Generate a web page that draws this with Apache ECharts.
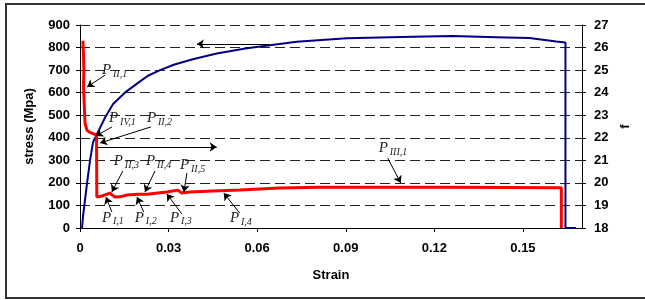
<!DOCTYPE html>
<html>
<head>
<meta charset="utf-8">
<script src="https://cdn.jsdelivr.net/npm/echarts@6/dist/echarts.min.js"></script>
<style>
html, body { margin: 0; padding: 0; background: #fff; }
#main { width: 645px; height: 300px; }
</style>
</head>
<body>
<div id="main"></div>
<script>
// axis ranges: [min, max, step]
var strainAxis = [0, 0.17, 0.03];
var stressAxis = [0, 900, 100];
var fAxis = [18, 27, 1];

// red curve, stress (Mpa) vs strain
var stressData = [
    [0.0010, 830], [0.0012, 760], [0.0013, 700], [0.0012, 625], [0.0017, 465],
    [0.0024, 432], [0.0034, 424], [0.0056, 412], [0.0057, 137], [0.0074, 142],
    [0.0101, 155], [0.0118, 137], [0.0135, 138], [0.0159, 146], [0.0196, 150],
    [0.0227, 150], [0.0294, 160], [0.0331, 168], [0.0345, 155], [0.0372, 160],
    [0.0450, 164], [0.0541, 168], [0.0676, 177], [0.0812, 181], [0.1251, 181],
    [0.1630, 179], [0.1630, 0]
];

// blue curve, f vs strain
var fData = [
    [0.0007, 18], [0.0010, 18.5], [0.0024, 20], [0.0034, 21], [0.0044, 21.8],
    [0.0057, 22.15], [0.0085, 22.9], [0.0112, 23.5], [0.0152, 24], [0.0193, 24.4],
    [0.0230, 24.75], [0.0271, 25], [0.0320, 25.25], [0.0382, 25.48], [0.0463, 25.74],
    [0.0565, 25.97], [0.0734, 26.26], [0.0903, 26.41], [0.1126, 26.48], [0.1261, 26.51],
    [0.1410, 26.46], [0.1522, 26.42], [0.1613, 26.27], [0.1644, 26.22], [0.1644, 18],
    [0.1680, 18]
];

// callouts: subscript, text point, arrow start, arrow end (strain, stress)
var callouts = [
    ['II,1', [0.0078, 700], [0.0085, 678], [0.0024, 625]],
    ['IV,1', [0.0102, 488], [0.0108, 448], [0.0054, 408]],
    ['II,2', [0.0230, 488], [0.0240, 448], [0.0068, 377]],
    ['II,3', [0.0118, 297], [0.0145, 253], [0.0108, 160]],
    ['II,4', [0.0227, 297], [0.0254, 253], [0.0220, 160]],
    ['II,5', [0.0342, 279], [0.0362, 244], [0.0352, 160]],
    ['I,1', [0.0078, 46], [0.0108, 71], [0.0088, 137]],
    ['I,2', [0.0189, 46], [0.0216, 71], [0.0193, 137]],
    ['I,3', [0.0308, 46], [0.0345, 62], [0.0294, 151]],
    ['I,4', [0.0511, 44], [0.0541, 66], [0.0487, 155]],
    ['III,1', [0.1015, 355], [0.1042, 310], [0.1086, 200]]
];

// the two long arrows
var longArrows = [
    [[0.0643, 816], [0.0396, 816]],
    [[0.0058, 359], [0.0463, 359]]
];

var axisFont = { color: '#000', fontFamily: 'Liberation Sans', fontWeight: 'bold', fontSize: 13 };
var arrowLines = [];
callouts.forEach(function (c) {
    arrowLines.push([{ coord: c[2] }, { coord: c[3] }]);
});
longArrows.forEach(function (a) {
    arrowLines.push([{ coord: a[0] }, { coord: a[1] }]);
});

var chart = echarts.init(document.getElementById('main'));
var option = {
    animation: false,
    backgroundColor: '#fff',
    grid: { left: 80, right: 63, top: 25, bottom: 72 },
    xAxis: {
        type: 'value',
        min: strainAxis[0], max: strainAxis[1], interval: strainAxis[2],
        name: 'Strain', nameLocation: 'middle', nameGap: 41,
        nameTextStyle: axisFont,
        axisLine: { lineStyle: { color: '#000', width: 1 } },
        axisTick: { length: 4, lineStyle: { color: '#000' } },
        axisLabel: Object.assign({ margin: 14, showMaxLabel: false }, axisFont),
        splitLine: { show: false }
    },
    yAxis: [{
        type: 'value',
        min: stressAxis[0], max: stressAxis[1], interval: stressAxis[2],
        name: 'stress (Mpa)', nameLocation: 'middle', nameGap: 44,
        nameTextStyle: axisFont,
        axisLine: { show: true, lineStyle: { color: '#000', width: 1 } },
        axisTick: { show: true, length: 4, lineStyle: { color: '#000' } },
        axisLabel: Object.assign({ margin: 10 }, axisFont),
        splitLine: { show: true, lineStyle: { color: '#222', width: 1, type: [10, 5] } }
    }, {
        type: 'value', position: 'right',
        min: fAxis[0], max: fAxis[1], interval: fAxis[2],
        name: 'f', nameLocation: 'middle', nameGap: 35,
        nameTextStyle: axisFont,
        axisLine: { show: true, lineStyle: { color: '#000', width: 1 } },
        axisTick: { show: true, length: 4, lineStyle: { color: '#000' } },
        axisLabel: Object.assign({ margin: 12 }, axisFont),
        splitLine: { show: false }
    }],
    series: [{
        name: 'f', type: 'line', yAxisIndex: 1, data: fData,
        showSymbol: false, z: 2,
        lineStyle: { color: '#000080', width: 2 }
    }, {
        name: 'stress', type: 'line', yAxisIndex: 0, data: stressData,
        showSymbol: false, z: 3,
        lineStyle: { color: '#ff0000', width: 3 },
        markLine: {
            silent: true,
            symbol: ['none', 'arrow'],
            symbolSize: 7,
            label: { show: false },
            lineStyle: { color: '#000', width: 1, type: 'solid' },
            data: arrowLines
        }
    }]
};
chart.setOption(option);

// P labels with subscripts, placed through the axes
var graphics = [{
    type: 'rect', silent: true,
    shape: { x: 6, y: 4, width: 645, height: 294 },
    style: { fill: 'none', stroke: '#333', lineWidth: 2 }
}];
callouts.forEach(function (c) {
    var p = chart.convertToPixel({ xAxisIndex: 0, yAxisIndex: 0 }, c[1]);
    graphics.push({
        type: 'text', silent: true, x: p[0] - 1, y: p[1],
        style: { text: 'P', font: 'italic 15px "Liberation Serif"', fill: '#222', verticalAlign: 'middle' }
    });
    graphics.push({
        type: 'text', silent: true, x: p[0] + 10, y: p[1] + 4,
        style: { text: c[0], font: 'italic 10px "Liberation Serif"', fill: '#222', verticalAlign: 'middle' }
    });
});
chart.setOption({ graphic: graphics });
</script>
</body>
</html>
